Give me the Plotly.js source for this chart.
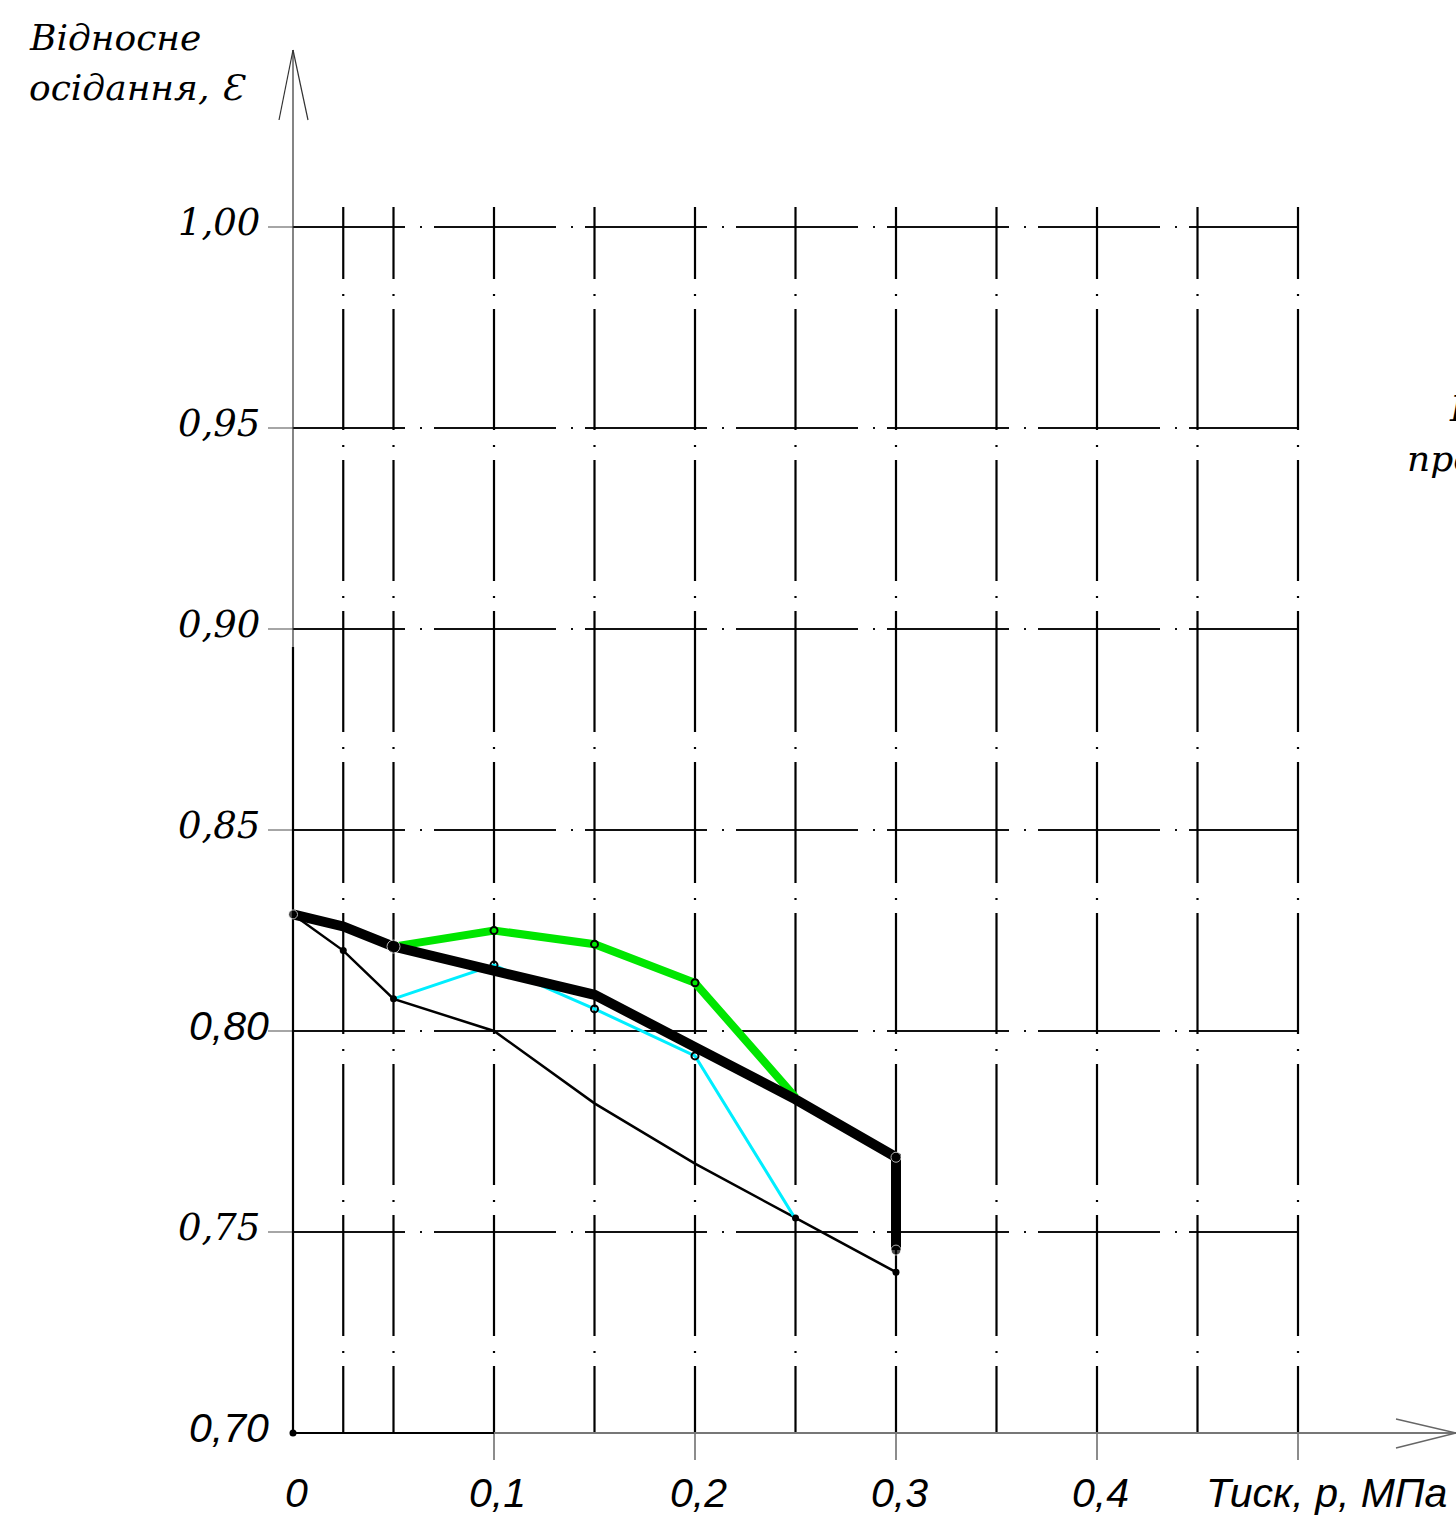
<!DOCTYPE html>
<html>
<head>
<meta charset="utf-8">
<script src="https://cdn.plot.ly/plotly-3.0.1.min.js"></script>
<style>html,body{margin:0;padding:0;background:#fff;}#chart{width:1456px;height:1520px;}</style>
</head>
<body>
<div id="chart"></div>
<script>
// ---- data ----
const pressureThin = [0, 0.025, 0.05, 0.1, 0.15, 0.2, 0.25, 0.3];
const settlementThin = [0.829, 0.820, 0.808, 0.800, 0.782, 0.767, 0.7535, 0.740];

const pressureThick = [0, 0.025, 0.05, 0.1, 0.15, 0.2, 0.25, 0.3, 0.3];
const settlementThick = [0.829, 0.826, 0.821, 0.815, 0.809, 0.796, 0.783, 0.7686, 0.7455];

const pressureGreen = [0.05, 0.1, 0.15, 0.2, 0.25];
const settlementGreen = [0.821, 0.825, 0.8216, 0.812, 0.7835];

const pressureCyan = [0.05, 0.1, 0.15, 0.2, 0.25];
const settlementCyan = [0.808, 0.8164, 0.8055, 0.7938, 0.7532];

const xGridVals = [0.025, 0.05, 0.1, 0.15, 0.2, 0.25, 0.3, 0.35, 0.4, 0.45, 0.5];
const xTickVals = [0, 0.1, 0.2, 0.3, 0.4];
const xTickText = ['0', '0,1', '0,2', '0,3', '0,4'];
const yTickVals = [0.70, 0.75, 0.80, 0.85, 0.90, 0.95, 1.00];
const yTickText = ['0,70', '0,75', '0,80', '0,85', '0,90', '0,95', '1,00'];
const ySansLabels = ['0,70', '0,80'];

const yTitleLine1 = 'Відносне';
const yTitleLine2 = 'осідання, Ɛ';
const xTitle = 'Тиск, р, МПа';

// ---- pixel helpers (page geometry) ----
const X0PX = 293, XS = 2010, Y0PX = 1433, YS = 4020;
const xd = px => (px - X0PX) / XS;
const yd = py => 0.70 + (Y0PX - py) / YS;

const SERIF = 'DejaVu Serif';
const SANS = 'Liberation Sans';

const shapes = [];
const ln = (x0, y0, x1, y1, color, width, dash, layer) => shapes.push({
  type: 'line', xref: 'x', yref: 'y', x0, y0, x1, y1,
  line: {color, width, dash: dash || 'solid'}, layer: layer || 'below'
});

// horizontal grid lines
yTickVals.filter(v => v > 0.70).forEach(v => {
  ln(xd(268), v, 0, v, '#888', 1.5);
  ln(0, v, xd(405), v, '#111', 2);
  ln(xd(420), v, 0.5, v, '#111', 2, '2px,12px,122px,15px');
});
// vertical grid lines
xGridVals.forEach(v => {
  ln(v, yd(207), v, yd(279), '#000', 2.2);
  ln(v, yd(294), v, 0.70, '#000', 2.2, '2px,13px,121px,15px');
});
// tick marks below axis
[0.1, 0.2, 0.3, 0.4, 0.5].forEach(v => ln(v, 0.70, v, yd(1460), '#666', 1.5));
// y axis
ln(0, yd(50), 0, 0.70, '#333', 1.2);
ln(0, yd(647), 0, 0.70, '#000', 2.2);
ln(0, yd(50), xd(279), yd(120), '#333', 1.2);
ln(0, yd(50), xd(308), yd(120), '#333', 1.2);
// x axis
ln(0, 0.70, 0.1, 0.70, '#000', 2.2);
ln(0.1, 0.70, xd(1456), 0.70, '#777', 2);
ln(xd(1396), yd(1419), xd(1456), 0.70, '#666', 1.3);
ln(xd(1396), yd(1448), xd(1456), 0.70, '#666', 1.3);

const annotations = [];
yTickVals.forEach((v, i) => {
  const t = yTickText[i];
  const sans = ySansLabels.includes(t);
  annotations.push({
    xref: 'x', yref: 'y', x: xd(sans ? 271 : 262), y: v, yshift: 5,
    xanchor: 'right', yanchor: 'middle', showarrow: false, text: t,
    font: {family: sans ? SANS : SERIF, size: sans ? 41 : 37, color: '#000', style: 'italic'}
  });
});
xTickVals.forEach((v, i) => annotations.push({
  xref: 'x', yref: 'y', x: v, y: yd(1493), xshift: 3,
  xanchor: 'center', yanchor: 'middle', showarrow: false, text: xTickText[i],
  font: {family: SANS, size: 41, color: '#000', style: 'italic'}
}));
annotations.push({
  xref: 'x', yref: 'y', x: xd(1449), y: yd(1493), xanchor: 'right', yanchor: 'middle',
  showarrow: false, text: xTitle, font: {family: SANS, size: 41, color: '#000', style: 'italic'}
});
annotations.push({
  xref: 'x', yref: 'y', x: xd(27), y: yd(37), xanchor: 'left', yanchor: 'middle',
  showarrow: false, text: yTitleLine1, font: {family: SERIF, size: 36, color: '#000', style: 'italic'}
});
annotations.push({
  xref: 'x', yref: 'y', x: xd(27), y: yd(87), xanchor: 'left', yanchor: 'middle',
  showarrow: false, text: yTitleLine2, font: {family: SERIF, size: 36, color: '#000', style: 'italic'}
});
annotations.push({
  xref: 'x', yref: 'y', x: xd(1405), y: yd(458), xanchor: 'left', yanchor: 'middle',
  showarrow: false, text: 'просідання', font: {family: SERIF, size: 36, color: '#000', style: 'italic'}
});
annotations.push({
  xref: 'x', yref: 'y', x: xd(1447), y: yd(408), xanchor: 'left', yanchor: 'middle',
  showarrow: false, text: 'Крива', font: {family: SERIF, size: 36, color: '#000', style: 'italic'}
});

const traces = [
  {x: pressureThin, y: settlementThin, mode: 'lines', line: {color: '#000', width: 2.5}},
  {x: pressureCyan, y: settlementCyan, mode: 'lines', line: {color: '#00eeff', width: 3}},
  {x: pressureGreen, y: settlementGreen, mode: 'lines', line: {color: '#00e600', width: 8}},
  {x: pressureThick, y: settlementThick, mode: 'lines', line: {color: '#000', width: 10}},
  {x: pressureGreen.slice(1, 4), y: settlementGreen.slice(1, 4), mode: 'markers',
   marker: {symbol: 'circle-open', size: 7, color: '#000', line: {width: 2, color: '#000'}}},
  {x: pressureCyan.slice(1, 4), y: settlementCyan.slice(1, 4), mode: 'markers',
   marker: {symbol: 'circle-open', size: 7, color: '#000', line: {width: 2, color: '#000'}}},
  {x: [pressureThin[1], pressureThin[2], pressureThin[6], pressureThin[7]],
   y: [settlementThin[1], settlementThin[2], settlementThin[6], settlementThin[7]], mode: 'markers',
   marker: {size: 7, color: '#000'}},
  {x: [pressureThick[0], pressureThick[2], pressureThick[7], pressureThick[8]],
   y: [settlementThick[0], settlementThick[2], settlementThick[7], settlementThick[8]], mode: 'markers',
   marker: {size: [9, 13, 10, 10], color: '#000'}},
  {x: [0], y: [0.70], mode: 'markers', marker: {size: 7, color: '#000'}}
];
traces.forEach(t => { t.showlegend = false; t.hoverinfo = 'skip'; t.cliponaxis = false; });

const layout = {
  width: 1456, height: 1520,
  margin: {l: 0, r: 0, t: 0, b: 0, pad: 0},
  paper_bgcolor: '#fff', plot_bgcolor: '#fff',
  showlegend: false,
  xaxis: {range: [xd(0), xd(1456)], visible: false, showgrid: false, zeroline: false, fixedrange: true},
  yaxis: {range: [yd(1520), yd(0)], visible: false, showgrid: false, zeroline: false, fixedrange: true},
  shapes, annotations
};
Plotly.newPlot('chart', traces, layout, {displayModeBar: false, staticPlot: true});
</script>
</body>
</html>
